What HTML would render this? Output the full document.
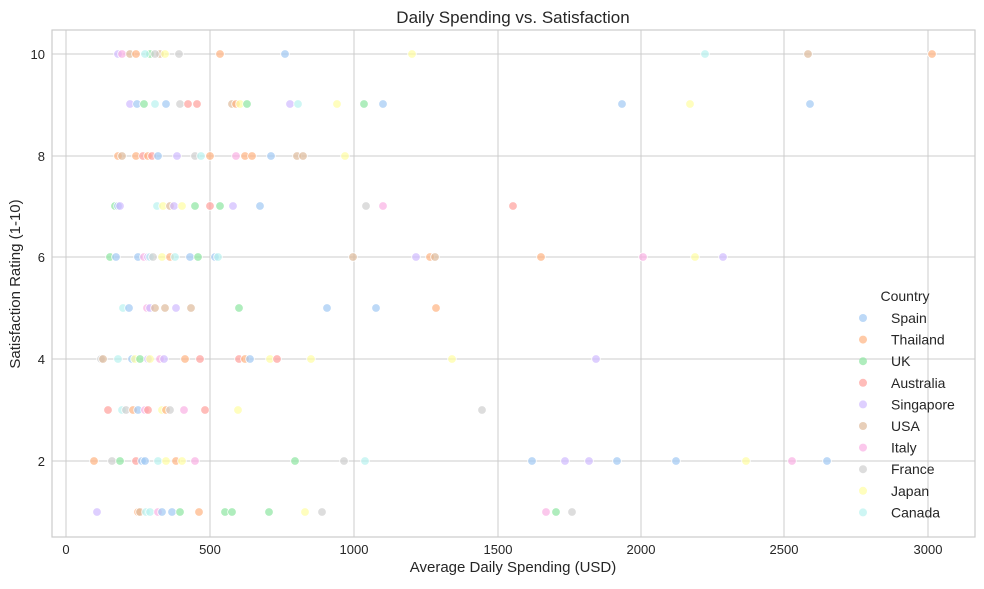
<!DOCTYPE html>
<html><head><meta charset="utf-8"><style>
body{margin:0;background:#fff;}
svg text{font-family:"Liberation Sans",sans-serif;fill:#262626;}
</style></head><body>
<svg id="s" width="984" height="584" xmlns="http://www.w3.org/2000/svg">
<rect width="984" height="584" fill="#fff"/>
<g stroke="#cccccc" stroke-width="1">
<line x1="66" y1="30" x2="66" y2="537"/><line x1="210" y1="30" x2="210" y2="537"/><line x1="354" y1="30" x2="354" y2="537"/><line x1="498" y1="30" x2="498" y2="537"/><line x1="641" y1="30" x2="641" y2="537"/><line x1="784" y1="30" x2="784" y2="537"/><line x1="928" y1="30" x2="928" y2="537"/>
<line x1="52" y1="54" x2="975" y2="54"/><line x1="52" y1="156" x2="975" y2="156"/><line x1="52" y1="257" x2="975" y2="257"/><line x1="52" y1="359" x2="975" y2="359"/><line x1="52" y1="461" x2="975" y2="461"/>
</g>
<rect x="52" y="30" width="923" height="507" fill="none" stroke="#cccccc" stroke-width="1.2"/>
<g font-size="13" text-anchor="middle">
<text x="66" y="554">0</text><text x="210" y="554">500</text><text x="354" y="554">1000</text><text x="498" y="554">1500</text><text x="641" y="554">2000</text><text x="784" y="554">2500</text><text x="928" y="554">3000</text>
</g>
<g font-size="13" text-anchor="end">
<text x="45" y="59">10</text><text x="45" y="161">8</text><text x="45" y="262">6</text><text x="45" y="364">4</text><text x="45" y="466">2</text>
</g>
<text x="513" y="23" font-size="17" text-anchor="middle">Daily Spending vs. Satisfaction</text>
<text x="513" y="572" font-size="15" text-anchor="middle">Average Daily Spending (USD)</text>
<text x="20" y="284" font-size="15" text-anchor="middle" transform="rotate(-90 20 284)">Satisfaction Rating (1-10)</text>
<g id="pts"></g>
<g id="leg"><text x="905" y="301" font-size="14" text-anchor="middle">Country</text></g>
</svg>
<script>
var C={Sp:"#a1c9f4",Th:"#ffb482",UK:"#8de5a1",Au:"#ff9f9b",Si:"#d0bbff",US:"#debb9b",It:"#fab0e4",Fr:"#cfcfcf",Ja:"#fffea3",Ca:"#b9f2f0"};
var R={54:"118 Si,122 It,130 US,136 Th,150 UK,145 Ca,160 US,155 Fr,165 Ja,179 Fr,220 Th,285 Sp,412 Ja,705 Ca,808 US,932 Th",
104:"130 Si,137 Sp,144 UK,155 Ca,166 Sp,180 Fr,188 Au,197 Au,232 US,236 Th,240 Ja,247 UK,290 Si,298 Ca,337 Ja,364 UK,383 Sp,622 Sp,690 Ja,810 Sp",
156:"118 Th,122 US,136 Th,143 Au,148 Th,152 Au,158 Sp,177 Si,195 Fr,201 Ca,210 Th,236 It,245 Th,252 Th,271 Sp,297 US,303 US,345 Ja",
206:"115 UK,118 Sp,120 Si,157 Ca,163 Ja,170 US,174 Si,182 Ja,195 UK,210 Au,220 UK,233 Si,260 Sp,366 Fr,383 It,513 Au",
257:"110 UK,116 Sp,138 Sp,144 It,148 Si,150 Ca,153 Fr,162 Ja,170 Th,175 Ca,190 Sp,198 UK,215 Sp,218 Ca,353 US,416 Si,430 Th,435 US,541 Th,643 It,695 Ja,723 Si",
308:"123 Ca,129 Sp,147 It,150 Si,155 US,165 US,176 Si,191 US,239 UK,327 Sp,376 Sp,436 Th",
359:"101 Fr,103 US,118 Ca,132 Sp,135 Ja,140 UK,148 Si,150 Ja,160 It,164 Si,185 Th,200 Au,239 Au,245 Th,250 Sp,270 Ja,277 Au,311 Ja,452 Ja,596 Si",
410:"108 Au,122 Ca,126 Fr,133 Th,138 Sp,145 It,148 Au,162 Ja,166 Th,170 Fr,184 It,205 Au,238 Ja,482 Fr",
461:"94 Th,112 Fr,120 UK,136 Au,142 Sp,145 Sp,158 Ca,166 Ja,176 Th,182 Ja,195 It,295 UK,344 Fr,365 Ca,532 Sp,565 Si,589 Si,617 Sp,676 Sp,746 Ja,792 It,827 Sp",
512:"97 Si,138 Th,140 US,146 Ca,150 Ca,158 It,162 Sp,172 Sp,180 UK,199 Th,225 UK,232 UK,269 UK,305 Ja,322 Fr,546 It,556 UK,572 Fr"};
var h="";
for(var y in R){R[y].split(",").forEach(function(p){var a=p.trim().split(" ");h+='<circle cx="'+a[0]+'" cy="'+y+'" r="4.3" fill="'+C[a[1]]+'" fill-opacity="0.7" stroke="#fff" stroke-width="0.8"/>';});}
document.getElementById("pts").innerHTML=h;
var L=[["Spain","Sp"],["Thailand","Th"],["UK","UK"],["Australia","Au"],["Singapore","Si"],["USA","US"],["Italy","It"],["France","Fr"],["Japan","Ja"],["Canada","Ca"]];
var g="";L.forEach(function(l,i){var y=318+i*21.6;g+='<circle cx="863" cy="'+y+'" r="4" fill="'+C[l[1]]+'" fill-opacity="0.7"/><text x="891" y="'+(y+5)+'" font-size="14">'+l[0]+'</text>';});
document.getElementById("leg").innerHTML+=g;
</script>
</body></html>
